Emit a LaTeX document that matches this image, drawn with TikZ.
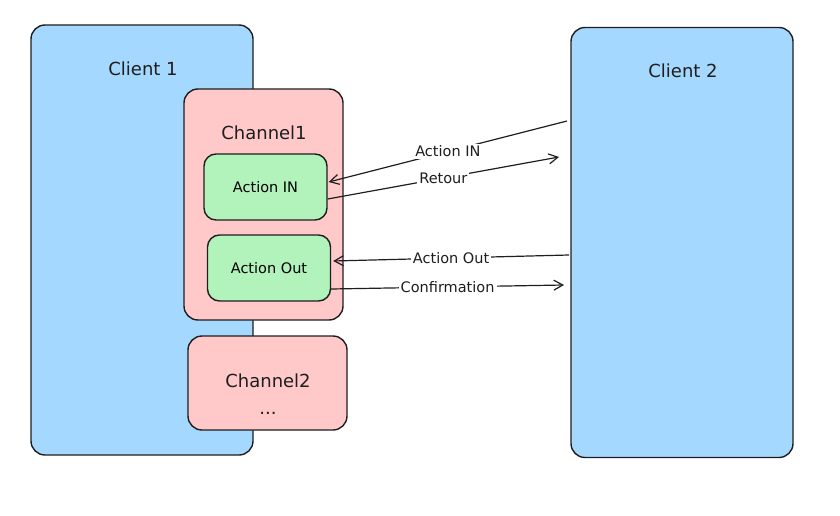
\documentclass[tikz,border=0pt]{standalone}
\usepackage{fontspec}
\setmainfont{DejaVu Sans}
\usetikzlibrary{arrows.meta}
\definecolor{ink}{HTML}{1E1E1E}
\definecolor{cblue}{HTML}{A5D8FF}
\definecolor{cpink}{HTML}{FFC9C9}
\definecolor{cgreen}{HTML}{B2F2BB}
\tikzset{
  boxbase/.style={draw=ink, line width=1.4pt, rounded corners=14pt, inner sep=0pt},
  clientbox/.style={boxbase, fill=cblue, minimum width=222pt, minimum height=430pt},
  chanbox/.style={boxbase, fill=cpink, minimum width=159pt},
  actbox/.style={boxbase, fill=cgreen, minimum width=123pt, minimum height=66pt, rounded corners=12pt, font=\fontsize{14.5}{16}\selectfont},
  title/.style={font=\fontsize{18}{20}\selectfont, text=ink},
  conn/.style={draw=ink, line width=1.2pt, -{Straight Barb[length=9pt,width=10pt,line width=1.2pt]}},
  clabel/.style={fill=white, inner sep=2pt, text=ink, font=\fontsize{14.5}{16}\selectfont}
}
\begin{document}
\begin{tikzpicture}[x=1pt,y=-1pt]
\useasboundingbox (0,0) rectangle (840,516);
% clients
\node[clientbox] (c1) at (142,240) {};
\node[title] (c1t) at (143,69) {Client 1};
\node[clientbox] (c2) at (682,242.5) {};
\node[title] (c2t) at (683,71) {Client 2};
% channels
\node[chanbox, minimum height=231pt] (ch1) at (263.5,204.5) {};
\node[title] (ch1t) at (264,133) {Channel1};
\node[chanbox, minimum height=94pt] (ch2) at (267.5,383) {};
\node[title, align=center] (ch2t) at (268,394) {Channel2\\[7pt]...};
% actions
\node[actbox] (ain) at (265.5,187) {Action IN};
\node[actbox] (aout) at (269,268) {Action Out};
% free ends near client 2
\coordinate (p1) at (567,121);
\coordinate (p2) at (559,157);
\coordinate (p3) at (569,255);
\coordinate (p4) at (564,285);
% connectors
\draw[conn] (p1) -- node[clabel, pos=0.5] {Action IN} ([xshift=1pt,yshift=5pt]ain.east);
\draw[conn] ([yshift=-12pt]ain.east) -- node[clabel, pos=0.5] {Retour} (p2);
\draw[conn] (p3) -- node[clabel, pos=0.5] {Action Out} ([xshift=2pt,yshift=7pt]aout.east);
\draw[conn] ([yshift=-21pt]aout.east) -- node[clabel, pos=0.5] {Confirmation} (p4);
\end{tikzpicture}
\end{document}
